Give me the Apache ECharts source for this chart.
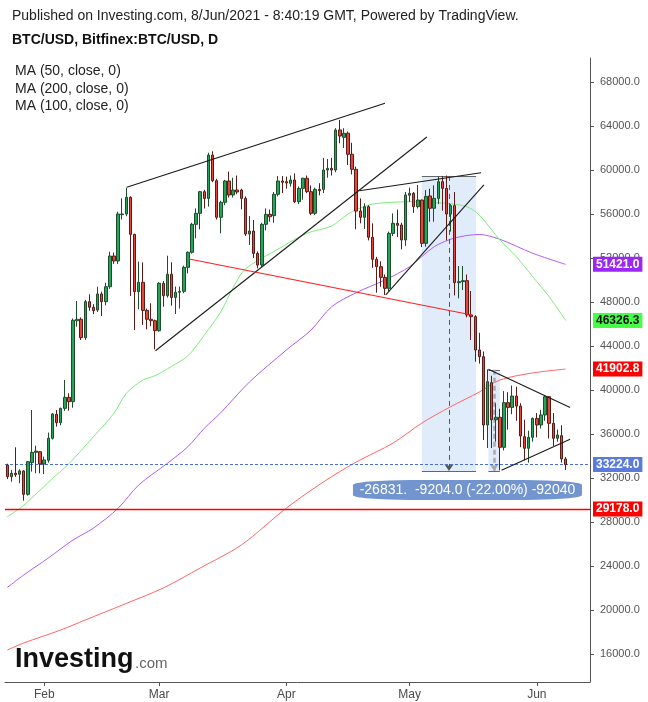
<!DOCTYPE html>
<html><head><meta charset="utf-8">
<script src="https://cdn.jsdelivr.net/npm/echarts@6/dist/echarts.min.js"></script>
<style>html,body{margin:0;padding:0;background:#fff}#c{width:648px;height:702px}</style>
</head><body><div id="c"></div>
<script>
// ---- data ----
const dates = ['01-23','01-24','01-25','01-26','01-27','01-28','01-29','01-30','01-31',
'02-01','02-02','02-03','02-04','02-05','02-06','02-07','02-08','02-09','02-10','02-11','02-12','02-13','02-14','02-15','02-16','02-17','02-18','02-19','02-20','02-21','02-22','02-23','02-24','02-25','02-26','02-27','02-28',
'03-01','03-02','03-03','03-04','03-05','03-06','03-07','03-08','03-09','03-10','03-11','03-12','03-13','03-14','03-15','03-16','03-17','03-18','03-19','03-20','03-21','03-22','03-23','03-24','03-25','03-26','03-27','03-28','03-29','03-30','03-31',
'04-01','04-02','04-03','04-04','04-05','04-06','04-07','04-08','04-09','04-10','04-11','04-12','04-13','04-14','04-15','04-16','04-17','04-18','04-19','04-20','04-21','04-22','04-23','04-24','04-25','04-26','04-27','04-28','04-29','04-30',
'05-01','05-02','05-03','05-04','05-05','05-06','05-07','05-08','05-09','05-10','05-11','05-12','05-13','05-14','05-15','05-16','05-17','05-18','05-19','05-20','05-21','05-22','05-23','05-24','05-25','05-26','05-27','05-28','05-29','05-30','05-31',
'06-01','06-02','06-03','06-04','06-05','06-06','06-07','06-08'];
const opens = [33180,32120,32430,32340,32640,30520,33390,34330,34390,
33270,33610,35610,37790,37030,38330,39330,38940,46300,46430,44760,48030,47520,47270,48730,48030,49390,52180,51730,55940,56000,57520,54150,48940,49790,47240,46430,46300,
45390,49700,48570,50520,48420,48880,48970,51150,52520,55060,56060,58030,57420,61360,59030,55700,57060,59000,57730,58180,58180,57420,54180,54450,52420,51360,55060,55970,55850,57790,59000,
58940,58790,59090,57120,58330,59250,58030,56060,58240,58240,60000,60150,60000,63640,62970,63340,61430,60060,56270,55700,56670,53880,51880,51210,50240,49240,54240,55150,55000,53640,
57700,57880,56670,57270,53330,57640,56520,57420,58940,58330,56000,56760,49760,49850,49940,46820,46670,43640,43030,36820,40670,37300,37520,34790,38850,38420,39450,38540,35760,34700,35700,
37420,36820,37730,39390,36970,35610,35850,33730];
const closes = [32120,32430,32300,32640,30520,33480,34330,34450,33270,
33640,35610,37820,37030,38330,39330,38940,46340,46430,44760,48030,47520,47210,48730,48030,49390,52180,51730,56000,56000,57520,54150,48940,49790,47240,46430,46300,45390,
49700,48570,50520,48420,48880,48970,51150,52520,55060,56060,58030,57420,61360,59030,55700,57060,59000,57730,58180,58000,57420,54180,54450,52420,51360,55060,55970,55750,57790,59000,58880,
58820,59090,57120,58330,59250,58030,56060,58240,58120,60000,60150,60000,63640,63090,63340,61430,60060,56270,55700,56670,53880,51880,51210,50240,49240,54240,55150,54970,53640,57730,
57880,56670,57270,53330,57600,56520,57420,58940,58330,56000,56760,49760,49850,49940,46820,46670,43640,43030,36820,40760,37300,37520,34790,38850,38420,39450,38540,35820,34700,35700,37420,
36820,37730,39390,36970,35610,35910,33730,33224];
const lows = [31900,31660,32100,31520,29940,30400,32580,32430,32430,
32360,33400,35500,36670,36800,38100,38120,38390,45760,44550,44550,47210,46900,47100,46730,47700,49200,51460,51460,55500,55800,48550,45450,47340,45910,45520,45800,43700,
45300,47580,48400,47670,46910,47400,48800,50600,52400,53790,54600,56500,56670,58900,55500,54250,56800,57500,57500,57800,56430,54000,53180,52000,51060,51200,54500,55300,55200,57600,57900,
58300,58500,57000,56900,57300,57900,55900,55900,57700,57900,59300,59500,59800,62430,62000,60450,59600,54610,55150,54640,53600,51100,48850,49390,48640,49000,54000,53900,52790,53100,
57100,56100,56500,53000,53030,55300,55300,56900,56300,53600,54400,48600,48330,49090,46600,44550,42570,42400,35450,34730,34730,35300,32700,34500,36400,37800,37200,34800,33600,33400,35300,
35700,36500,37200,35600,34900,35300,33400,32730];
const highs = [33300,32730,34790,32800,32700,33550,38180,34940,34450,
33940,36130,37900,38180,38400,40910,39700,46500,48090,46600,48200,48700,47800,49390,48940,49750,52570,52490,56210,57420,58390,57600,54200,51670,51600,47400,47880,46400,
49800,49900,52210,51610,49400,49400,51300,52600,55200,56500,58100,58200,61570,61700,59200,57200,59100,59850,59300,59500,58300,57600,55820,55450,52600,55200,56500,56400,58000,59450,59450,
59400,59500,59700,58500,59300,59500,58600,58400,58800,61100,61000,61100,63800,64550,63800,63500,62480,60300,57420,56970,56800,55150,52100,51700,50500,54400,56060,56400,55200,58000,
58400,58000,58640,57300,58180,58300,58600,59400,59450,59500,56900,58000,51270,51270,50500,49000,46800,45200,43500,41880,41300,38800,38300,39900,39800,40400,40300,38800,37300,36300,37500,
37900,38200,39500,39400,37900,36400,36800,33900];

// moving averages, sampled along the drawn curves: [date, value]
const ma50 = [['01-23',28480],['01-26',29220],['01-29',30200],['02-03',31950],['02-07',33300],['02-13',35760],['02-18',37900],['02-21',39700],['02-25',40900],['02-28',41300],['03-04',42150],['03-08',43100],['03-12',45000],['03-16',47100],['03-19',49300],['03-22',51000],['03-29',52600],['04-06',54250],['04-12',54900],['04-16',56000],['04-21',56820],['04-25',57020],['05-02',57120],['05-06',57030],['05-10',56970],['05-15',56650],['05-18',55900],['05-23',53640],['05-27',52120],['05-31',50300],['06-04',48480],['06-08',46326.3]];
const ma100 = [['01-23',22050],['01-27',23180],['02-02',24730],['02-08',26360],['02-13',27450],['02-19',29250],['02-24',31360],['03-03',33340],['03-08',34850],['03-12',36520],['03-16',37940],['03-23',40730],['04-01',43640],['04-07',45450],['04-12',47570],['04-18',48850],['04-25',50000],['05-01',51210],['05-07',53030],['05-12',53820],['05-18',54140],['05-23',53700],['05-31',52430],['06-08',51421]];
const ma200 = [['01-23',16360],['01-27',17000],['02-05',18180],['02-11',19090],['02-20',20450],['03-02',22000],['03-11',23820],['03-21',25910],['04-01',29270],['04-10',31640],['04-18',33450],['04-27',35180],['05-04',37000],['05-11',38480],['05-18',39820],['05-23',40910],['05-31',41550],['06-08',41902.8]];

const lastClose = 33224.0;
const supportLevel = 29178.0;

// drawn trend lines: [dayOffset, price] pairs
const blackLines = [
  [[29.1,58430],[92.0,66070]],
  [[36.1,43570],[102.2,63000]],
  [[85.8,58120],[115.4,59750]],
  [[92.2,48640],[116.1,58640]],
  [[117.2,41880],[137.1,38420]],
  [[120.4,32700],[137.1,35520]]
];
const redLines = [[[44.3,51910],[113.2,46820]]];
// measured ranges (date-price range tool)
const ranges = [
  {x0:101.0, x1:114.2, top:59463, bottom:32632, mid:107.6},
  {x0:117.2, x1:120.0, top:41836, bottom:32632, mid:118.6}
];
const rangeLabel = {x:112.1, y:30909, text:'-26831.  -9204.0 (-22.00%) -92040'};

const yTicks = [16000,20000,24000,28000,32000,36000,40000,44000,48000,52000,56000,60000,64000,68000];
const monthNames = ['Feb','Mar','Apr','May','Jun'];
const monthStarts = ['02-01','03-01','04-01','05-01','06-01'];

// ---- helpers ----
const T0 = Date.UTC(2021,0,23);
function dayIdx(s){const p=s.split('-').map(Number);return Math.round((Date.UTC(2021,p[0]-1,p[1])-T0)/864e5);}
const monthTickDays = monthStarts.map(dayIdx);
const candleData = dates.map((d,i)=>[dayIdx(d),opens[i],closes[i],lows[i],highs[i]]);
const toPts = arr => arr.map(p=>[dayIdx(p[0]),p[1]]);
const FONT = '"Liberation Sans", Arial, sans-serif';

function tagLabel(value, bg, fg){
  return {show:true, position:'end', distance:3, formatter:value.toFixed(1),
    backgroundColor:bg, color:fg, fontSize:12, fontWeight:'bold', fontFamily:FONT, padding:[2,3,1,3]};
}
function tag(value, bg, fg){
  return {
    silent:true, symbol:['none','none'],
    lineStyle:{color:'rgba(0,0,0,0)', width:1},
    label:tagLabel(value,bg,fg),
    data:[{yAxis:value}]
  };
}

const series = [];
// shaded ranges
series.push({
  type:'line', data:[], z:1, silent:true,
  markArea:{silent:true, itemStyle:{color:'rgba(196,218,248,0.5)'},
    data: ranges.map(r=>[{coord:[r.x0,r.bottom]},{coord:[r.x1,r.top]}])},
  markLine:{silent:true, symbol:['none','none'], label:{show:false},
    lineStyle:{color:'#666',width:1,type:'solid'},
    data: ranges.flatMap(r=>[[{coord:[r.x0,r.top]},{coord:[r.x1,r.top]}],[{coord:[r.x0,r.bottom]},{coord:[r.x1,r.bottom]}]])}
});
// arrows
series.push({
  type:'line', data:[], z:2, silent:true,
  markLine:{silent:true, symbol:['none','arrow'], symbolSize:7, label:{show:false},
    data:[
      [{coord:[ranges[0].mid,ranges[0].top],lineStyle:{color:'#555',width:1,type:[5,4]}},{coord:[ranges[0].mid,ranges[0].bottom]}],
      [{coord:[ranges[1].mid,ranges[1].top],lineStyle:{color:'#aaa',width:2.5,type:[5,3]}},{coord:[ranges[1].mid,ranges[1].bottom]}]
    ]}
});
// moving averages
series.push({type:'line', name:'MA200', data:toPts(ma200), symbol:'none', smooth:0.3, z:3,
  lineStyle:{color:'#ff6666',width:1}, markLine:tag(41902.8,'#ff0000','#fff')});
series.push({type:'line', name:'MA100', data:toPts(ma100), symbol:'none', smooth:0.3, z:3,
  lineStyle:{color:'#b05cff',width:1}, markLine:tag(51421.0,'#9c27f5','#fff')});
series.push({type:'line', name:'MA50', data:toPts(ma50), symbol:'none', smooth:0.3, z:3,
  lineStyle:{color:'#7ded7d',width:1}, markLine:tag(46326.3,'#44ff44','#111')});
// horizontal levels
series.push({type:'line', data:[], z:4, silent:true,
  markLine:{silent:true, symbol:['none','none'],
    data:[
      {yAxis:lastClose, lineStyle:{color:'#4a6fd6',width:1,type:[3,2]}, label:tagLabel(lastClose,'#5a7bdc','#fff')},
      {yAxis:supportLevel, lineStyle:{color:'#ff0000',width:1.4,type:'solid'}, label:tagLabel(supportLevel,'#ff0000','#fff')}
    ]}
});
// trend lines
blackLines.forEach(l=>series.push({type:'line', data:l, symbol:'none', z:6, silent:true, lineStyle:{color:'#1a1a1a',width:1.1}}));
redLines.forEach(l=>series.push({type:'line', data:l, symbol:'none', z:6, silent:true, lineStyle:{color:'#ff2020',width:1.2}}));
// candles
series.push({type:'candlestick', data:candleData, encode:{x:0,y:[1,2,3,4]}, barWidth:3, z:5,
  itemStyle:{color:'#22a559', color0:'#e4463c', borderColor:'#1d4d2b', borderColor0:'#5c1b17', borderWidth:1}});
// range label
series.push({type:'line', data:[], z:8, silent:true,
  markPoint:{silent:true, symbol:'roundRect', symbolSize:[229,20],
    itemStyle:{color:'#7294cf'},
    label:{show:true, position:'inside', color:'#fff', fontSize:14, fontFamily:FONT, formatter:rangeLabel.text},
    data:[{coord:[rangeLabel.x, rangeLabel.y]}]}
});

const chart = echarts.init(document.getElementById('c'), null, {renderer:'canvas'});
chart.setOption({
  animation:false,
  backgroundColor:'#fff',
  grid:{left:5, right:58, top:58, bottom:20},
  xAxis:{type:'value', min:-0.56, max:141.95,
    splitLine:{show:false},
    axisLine:{show:true, onZero:false, lineStyle:{color:'#555'}},
    axisTick:{show:true, customValues:monthTickDays, length:4, lineStyle:{color:'#555'}},
    axisLabel:{customValues:monthTickDays, formatter:v=>monthNames[monthTickDays.indexOf(Math.round(v))]||'',
      color:'#4a4a4a', fontSize:12, fontFamily:FONT, margin:7}},
  yAxis:{type:'value', position:'right', min:13455, max:70182,
    splitLine:{show:false},
    axisLine:{show:true, onZero:false, lineStyle:{color:'#555'}},
    axisTick:{show:true, customValues:yTicks, length:4, lineStyle:{color:'#555'}},
    axisLabel:{customValues:yTicks, formatter:v=>v.toFixed(1), color:'#555', fontSize:11, fontFamily:FONT, margin:10}},
  graphic:[
    {type:'text', left:12, top:9, style:{text:'Published on Investing.com, 8/Jun/2021 - 8:40:19 GMT, Powered by TradingView.', font:'14px '+FONT, fill:'#222'}},
    {type:'text', left:12, top:33, style:{text:'BTC/USD, Bitfinex:BTC/USD, D', font:'bold 14px '+FONT, fill:'#111'}},
    {type:'text', left:15, top:64, style:{text:'MA (50, close, 0)', font:'14px '+FONT, fill:'#222'}},
    {type:'text', left:15, top:82, style:{text:'MA (200, close, 0)', font:'14px '+FONT, fill:'#222'}},
    {type:'text', left:15, top:99, style:{text:'MA (100, close, 0)', font:'14px '+FONT, fill:'#222'}},
    {type:'text', left:15, top:646, style:{text:'Investing', font:'bold 27px '+FONT, fill:'#111'}},
    {type:'text', left:135, top:656, style:{text:'.com', font:'15px '+FONT, fill:'#666'}}
  ],
  series
});
</script></body></html>
